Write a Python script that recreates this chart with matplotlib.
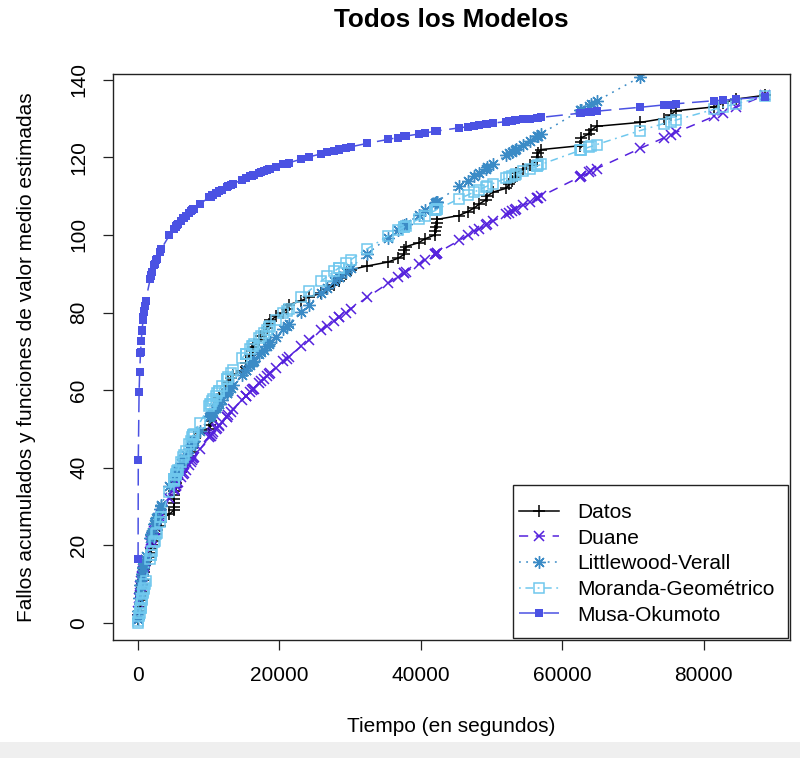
import numpy as np
import matplotlib.pyplot as plt
from matplotlib.patches import Rectangle

plt.rcParams['font.family'] = ['Liberation Sans', 'DejaVu Sans']

# Tiempos acumulados de fallo (segundos)
tiempo = np.array([
    3, 33, 146, 227, 342, 351, 353, 444, 556, 571,
    709, 759, 836, 860, 968, 1056, 1726, 1846, 1872, 1986,
    2311, 2366, 2608, 2676, 3098, 3278, 3288, 4434, 5034, 5049,
    5085, 5089, 5089, 5097, 5324, 5389, 5565, 5623, 6080, 6380,
    6477, 6740, 7192, 7447, 7644, 7837, 7843, 7922, 8738, 10089,
    10237, 10258, 10491, 10625, 10982, 11175, 11411, 11442, 11811, 12559,
    12559, 12791, 13121, 13486, 14708, 15251, 15261, 15277, 15806, 16185,
    16229, 16358, 17168, 17458, 17758, 18287, 18568, 18728, 19556, 20567,
    21012, 21308, 23063, 24127, 25910, 26770, 27753, 28460, 28493, 29361,
    30085, 32408, 35338, 36799, 37642, 37654, 37915, 39715, 40580, 42015,
    42045, 42188, 42296, 42296, 45406, 46653, 47596, 48296, 49171, 49416,
    50145, 52042, 52489, 52875, 53321, 53443, 54433, 55381, 56463, 56485,
    56560, 57042, 62551, 62651, 62661, 63732, 64103, 64893, 71043, 74364,
    75409, 76057, 81542, 82702, 84566, 88682])
fallos = np.arange(1, len(tiempo) + 1)

# Funciones de valor medio estimadas en cada tiempo de fallo
duane = [
    1.0, 3.1, 6.3, 7.8, 9.4, 9.6, 9.6, 10.7, 11.9, 12.1,
    13.4, 13.8, 14.5, 14.7, 15.6, 16.2, 20.5, 21.2, 21.3, 22.0,
    23.6, 23.9, 25.0, 25.3, 27.2, 27.9, 28.0, 32.3, 34.3, 34.4,
    34.5, 34.5, 34.5, 34.5, 35.3, 35.5, 36.0, 36.2, 37.6, 38.4,
    38.7, 39.5, 40.7, 41.4, 41.9, 42.4, 42.5, 42.7, 44.7, 47.9,
    48.2, 48.3, 48.8, 49.1, 49.9, 50.3, 50.8, 50.9, 51.7, 53.2,
    53.2, 53.7, 54.4, 55.1, 57.4, 58.4, 58.4, 58.5, 59.4, 60.1,
    60.2, 60.4, 61.8, 62.3, 62.9, 63.7, 64.2, 64.5, 65.8, 67.4,
    68.1, 68.6, 71.3, 72.8, 75.4, 76.5, 77.9, 78.8, 78.9, 80.0,
    81.0, 83.9, 87.5, 89.2, 90.1, 90.2, 90.5, 92.5, 93.5, 95.0,
    95.1, 95.2, 95.3, 95.3, 98.6, 99.9, 100.9, 101.6, 102.5, 102.7,
    103.5, 105.3, 105.7, 106.1, 106.5, 106.7, 107.6, 108.5, 109.5, 109.5,
    109.6, 110.0, 115.0, 115.1, 115.1, 116.1, 116.4, 117.1, 122.3, 125.0,
    125.8, 126.4, 130.6, 131.5, 132.9, 136.0]

littlewood = [
    0.9, 3.0, 6.4, 8.0, 9.8, 9.9, 9.9, 11.1, 12.5, 12.6,
    14.1, 14.5, 15.3, 15.5, 16.4, 17.2, 21.9, 22.7, 22.8, 23.5,
    25.4, 25.7, 27.0, 27.3, 29.4, 30.2, 30.3, 35.2, 37.5, 37.5,
    37.7, 37.7, 37.7, 37.7, 38.5, 38.8, 39.4, 39.6, 41.2, 42.2,
    42.5, 43.3, 44.8, 45.6, 46.2, 46.7, 46.8, 47.0, 49.4, 53.0,
    53.4, 53.5, 54.1, 54.4, 55.3, 55.8, 56.4, 56.5, 57.4, 59.2,
    59.2, 59.7, 60.5, 61.3, 64.0, 65.2, 65.2, 65.3, 66.4, 67.2,
    67.3, 67.5, 69.2, 69.8, 70.4, 71.4, 71.9, 72.3, 73.8, 75.7,
    76.5, 77.1, 80.2, 82.0, 85.0, 86.4, 88.0, 89.1, 89.1, 90.5,
    91.6, 95.1, 99.3, 101.3, 102.4, 102.5, 102.8, 105.2, 106.4, 108.2,
    108.3, 108.5, 108.6, 108.6, 112.5, 114.0, 115.2, 116.0, 117.1, 117.4,
    118.2, 120.5, 121.0, 121.4, 121.9, 122.1, 123.2, 124.3, 125.5, 125.5,
    125.6, 126.1, 132.1, 132.2, 132.2, 133.3, 133.7, 134.5, 140.7, 144.0,
    145.0, 145.6, 150.8, 151.8, 153.5, 157.2]

moranda = [
    0.0, 0.4, 1.7, 2.6, 3.8, 3.9, 3.9, 4.9, 6.0, 6.2,
    7.6, 8.0, 8.8, 9.0, 10.0, 10.8, 16.5, 17.4, 17.6, 18.5,
    20.8, 21.2, 22.9, 23.3, 26.1, 27.2, 27.2, 33.7, 36.7, 36.8,
    37.0, 37.0, 37.0, 37.0, 38.1, 38.4, 39.2, 39.5, 41.5, 42.8,
    43.2, 44.3, 46.0, 47.0, 47.8, 48.5, 48.5, 48.8, 51.6, 56.0,
    56.4, 56.5, 57.2, 57.6, 58.6, 59.2, 59.9, 59.9, 61.0, 62.9,
    62.9, 63.5, 64.4, 65.3, 68.2, 69.4, 69.4, 69.4, 70.6, 71.4,
    71.5, 71.8, 73.4, 74.0, 74.6, 75.6, 76.2, 76.5, 78.0, 79.8,
    80.5, 81.0, 83.9, 85.5, 88.1, 89.3, 90.6, 91.6, 91.6, 92.7,
    93.6, 96.4, 99.7, 101.2, 102.1, 102.1, 102.4, 104.1, 105.0, 106.3,
    106.3, 106.5, 106.6, 106.6, 109.3, 110.3, 111.1, 111.7, 112.4, 112.6,
    113.2, 114.6, 114.9, 115.2, 115.5, 115.6, 116.4, 117.0, 117.8, 117.8,
    117.9, 118.2, 121.8, 121.9, 121.9, 122.6, 122.8, 123.3, 126.9, 128.7,
    129.2, 129.6, 132.4, 132.9, 133.8, 135.7]

musa = [
    16.5, 42.0, 59.4, 64.6, 69.5, 69.8, 69.8, 72.6, 75.2, 75.6,
    78.1, 78.9, 80.1, 80.4, 81.8, 82.9, 88.7, 89.5, 89.7, 90.4,
    92.2, 92.5, 93.6, 93.9, 95.7, 96.3, 96.4, 99.9, 101.4, 101.5,
    101.6, 101.6, 101.6, 101.6, 102.1, 102.3, 102.6, 102.8, 103.7, 104.3,
    104.4, 104.9, 105.7, 106.1, 106.4, 106.7, 106.7, 106.8, 108.0, 109.7,
    109.9, 109.9, 110.2, 110.3, 110.7, 110.9, 111.2, 111.2, 111.6, 112.3,
    112.3, 112.5, 112.8, 113.2, 114.2, 114.6, 114.6, 114.6, 115.1, 115.3,
    115.4, 115.5, 116.0, 116.2, 116.4, 116.8, 117.0, 117.1, 117.6, 118.2,
    118.4, 118.6, 119.5, 120.1, 120.9, 121.3, 121.7, 122.0, 122.1, 122.4,
    122.7, 123.6, 124.6, 125.1, 125.4, 125.4, 125.5, 126.0, 126.3, 126.7,
    126.7, 126.7, 126.8, 126.8, 127.6, 127.9, 128.2, 128.3, 128.6, 128.6,
    128.8, 129.2, 129.3, 129.4, 129.5, 129.5, 129.8, 130.0, 130.2, 130.2,
    130.2, 130.3, 131.4, 131.4, 131.4, 131.6, 131.7, 131.9, 132.9, 133.5,
    133.6, 133.8, 134.6, 134.7, 135.0, 135.6]

W, H = 800, 758
fig = plt.figure(figsize=(W / 100, H / 100), dpi=100)
fig.patches.append(Rectangle((0, 0), 1, 16 / H, transform=fig.transFigure,
                             facecolor='#efefef', edgecolor='none', zorder=-1))

ax = fig.add_axes([113 / W, (H - 640) / H, 677 / W, 565.7 / H])

ax.plot(tiempo, fallos, color='black', lw=1.1, marker='+', ms=8.5, mew=1.1,
        label='Datos')
ax.plot(tiempo, duane, color='#5522dd', lw=1.1, ls=(0, (6, 5)), marker='x',
        ms=6.5, mew=1.1, label='Duane')
ax.plot(tiempo, littlewood, color='#3b8bc6', lw=1.1, ls=(0, (1.2, 3.5)),
        marker=(8, 2, 0), ms=9, mew=1.0, label='Littlewood-Verall')
ax.plot(tiempo, moranda, color='#70c8ee', lw=1.1, ls=(0, (1.2, 3, 5, 3)),
        marker='s', mfc='none', ms=6.8, mew=1.1, label='Moranda-Geométrico')
ax.plot(tiempo, musa, color='#4b52e3', lw=1.1, ls=(0, (11, 5)), marker='s',
        ms=6.3, mew=0, label='Musa-Okumoto')

# rango con el 4% de margen que deja R alrededor de los datos
dx = 0.04 * (tiempo.max() - tiempo.min())
dy = 0.04 * (fallos.max() - fallos.min())
ax.set_xlim(tiempo.min() - dx, tiempo.max() + dx)
ax.set_ylim(fallos.min() - dy, fallos.max() + dy)

ax.set_xticks([0, 20000, 40000, 60000, 80000])
ax.set_yticks(range(0, 141, 20))
ax.tick_params(axis='both', direction='out', length=7, width=0.9,
               labelsize=15, color='#222222')
ax.tick_params(axis='x', pad=12)
ax.tick_params(axis='y', pad=10.8, labelrotation=90)
for lab in ax.get_yticklabels():
    lab.set_va('center')
for s in ax.spines.values():
    s.set_linewidth(1.0)
    s.set_color('#222222')

ax.set_xlabel('Tiempo (en segundos)', fontsize=15)
ax.set_ylabel('Fallos acumulados y funciones de valor medio estimadas',
              fontsize=15)
ax.xaxis.set_label_coords(0.5, (640 - 727) / 565.7)
ax.xaxis.label.set_va('center')
ax.yaxis.set_label_coords((27 - 113) / 677, 0.5)
ax.yaxis.label.set_va('center')

fig.text(451.5 / W, 1 - 20 / H, 'Todos los Modelos', ha='center', va='center',
         fontsize=18.8, fontweight='bold')

# caja de la leyenda (esquina inferior derecha) y entradas sin marco propio
ax.add_patch(Rectangle((513 / W, (H - 638) / H), 275 / W, 153 / H,
                       transform=fig.transFigure, facecolor='white',
                       edgecolor='#222222', lw=1.0, zorder=4.9, clip_on=False))
leg = ax.legend(loc='upper left', bbox_to_anchor=(519 / W, 1 - 503 / H),
                bbox_transform=fig.transFigure, numpoints=1, fontsize=15,
                frameon=False, borderaxespad=0, borderpad=0,
                labelspacing=0.32, handlelength=1.9, handletextpad=0.9)
leg.set_zorder(5)

fig.savefig('out.png', dpi=100)
